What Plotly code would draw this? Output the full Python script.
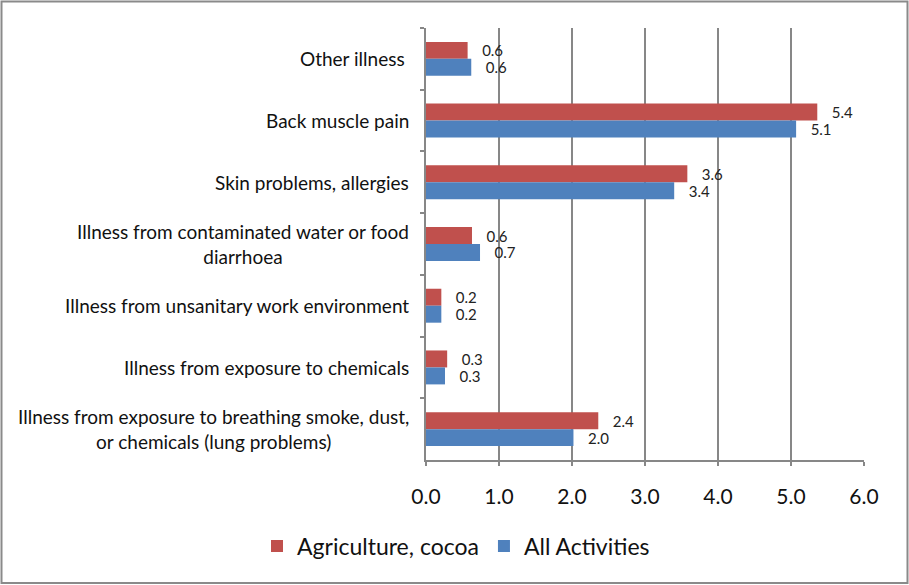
import plotly.graph_objects as go

# Illness categories, top to bottom
categories = [
    "Other illness\u00a0",
    "Back muscle pain",
    "Skin problems, allergies",
    "Illness from contaminated water or food<br>diarrhoea",
    "Illness from unsanitary work environment",
    "Illness from exposure to chemicals",
    "Illness from exposure to breathing smoke, dust,<br>or chemicals (lung problems)",
]

# Share of children reporting each illness (%)
agriculture_cocoa = [0.57, 5.36, 3.58, 0.63, 0.21, 0.29, 2.36]
all_activities = [0.62, 5.07, 3.40, 0.74, 0.21, 0.26, 2.02]

series_names = ["Agriculture, cocoa", "All Activities"]
series_colors = ["#C0504D", "#4F81BD"]

x_ticks = [0, 1, 2, 3, 4, 5, 6]

W, H = 909, 585
M_L, M_R, M_T, M_B = 426, 45, 28, 125
plot_w = W - M_L - M_R
plot_h = H - M_T - M_B

FONT = "Lato"
GRID = "#878787"

fig = go.Figure()
for name, vals, col in zip(series_names, [agriculture_cocoa, all_activities], series_colors):
    fig.add_trace(go.Bar(
        name=name,
        y=categories,
        x=vals,
        orientation="h",
        marker=dict(color=col, line=dict(width=0)),
        texttemplate="\u00a0\u00a0\u00a0%{x:.1f}",
        textposition="outside",
        textfont=dict(family=FONT, size=15, color="#222222"),
        constraintext="none",
        cliponaxis=False,
    ))

# Category labels, centred line by line, right of the axis
annotations = [
    dict(
        x=0, xref="paper", y=c, yref="y",
        text=c, showarrow=False,
        xanchor="right", yanchor="middle", xshift=-15,
        align="center",
        font=dict(family=FONT, size=19, color="#111111"),
    )
    for c in categories
]

# Outer frame of the chart
def px_to_paper_x(px):
    return (px - M_L) / plot_w

def px_to_paper_y(py):
    return (H - M_B - py) / plot_h

shapes = [dict(
    type="rect", xref="paper", yref="paper",
    x0=px_to_paper_x(1.5), x1=px_to_paper_x(907.5),
    y0=px_to_paper_y(583), y1=px_to_paper_y(1.5),
    line=dict(color="#8a8a8a", width=2), fillcolor="rgba(0,0,0,0)",
    layer="above",
)]

fig.update_layout(
    width=W, height=H,
    margin=dict(l=M_L, r=M_R, t=M_T, b=M_B, pad=0),
    paper_bgcolor="white", plot_bgcolor="white",
    barmode="group", bargap=0.45, bargroupgap=0,
    font=dict(family=FONT, color="#111111"),
    showlegend=True,
    legend=dict(
        orientation="h", x=px_to_paper_x(456), xanchor="center",
        y=px_to_paper_y(546), yanchor="middle",
        font=dict(family=FONT, size=23, color="#111111"),
        traceorder="normal", itemwidth=30,
    ),
    annotations=annotations,
    shapes=shapes,
)

fig.update_xaxes(
    range=[0, 6], tickvals=x_ticks, tickformat=".1f",
    showgrid=True, gridcolor=GRID, gridwidth=1.5,
    showline=True, linecolor=GRID, linewidth=1.5,
    ticks="outside", ticklen=4, tickcolor=GRID, tickwidth=1.5,
    tickfont=dict(family=FONT, size=21, color="#111111"),
    ticklabelstandoff=13,
    zeroline=False, fixedrange=True,
)
fig.update_yaxes(
    autorange="reversed", categoryorder="array", categoryarray=categories,
    showticklabels=False,
    showline=True, linecolor=GRID, linewidth=1.5,
    ticks="outside", ticklen=4, tickcolor=GRID, tickwidth=1.5,
    tickson="boundaries",
    showgrid=False, zeroline=False, fixedrange=True,
)

fig.write_html("out.html", config={"displayModeBar": False})
